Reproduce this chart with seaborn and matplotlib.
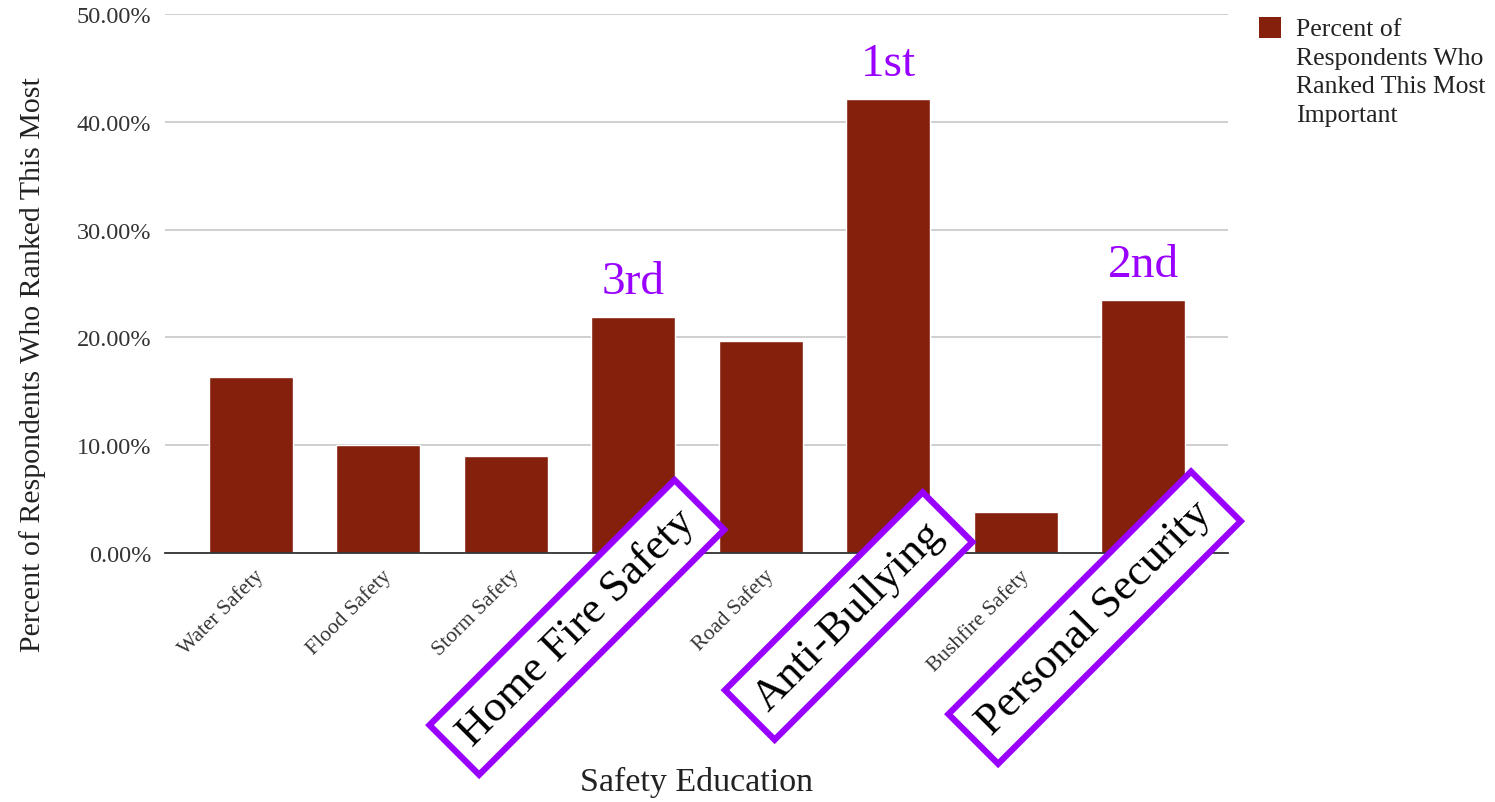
import matplotlib
matplotlib.use("Agg")
import matplotlib.pyplot as plt
import matplotlib.transforms as mtransforms
from matplotlib.patches import Rectangle
from matplotlib.ticker import FuncFormatter
import pandas as pd
import seaborn as sns

# ---- data -------------------------------------------------------------
categories = [
    "Water Safety", "Flood Safety", "Storm Safety", "Home Fire Safety",
    "Road Safety", "Anti-Bullying", "Bushfire Safety", "Personal Security",
]
percent_most_important = [16.3, 10.0, 9.0, 21.9, 19.7, 42.1, 3.8, 23.5]
y_ticks = [0, 10, 20, 30, 40, 50]
top_ranked = ["Anti-Bullying", "Personal Security", "Home Fire Safety"]
rank_labels = ["1st", "2nd", "3rd"]
series_label = "Percent of\nRespondents Who\nRanked This Most\nImportant"
x_title = "Safety Education"
y_title = "Percent of Respondents Who Ranked This Most"

# ---- style ------------------------------------------------------------
BAR_COLOR = "#85200c"
HIGHLIGHT = "#9900ff"
GRID = "#cccccc"
TEXT = "#222222"

sns.set_theme(style="white")
plt.rcParams["font.family"] = ["Liberation Serif", "DejaVu Serif"]

W, H = 1495, 803
fig = plt.figure(figsize=(W / 100, H / 100), dpi=100)
ax = fig.add_axes([165 / W, 1 - 554 / H, (1228 - 165) / W, (554 - 15) / H])

df = pd.DataFrame({"category": categories, "value": percent_most_important})
sns.barplot(data=df, x="category", y="value", color=BAR_COLOR,
            saturation=1, width=0.66, ax=ax, zorder=2)

ax.set_xlim(-0.675, len(categories) - 1 + 0.667)
ax.set_ylim(0, 50)
ax.set_yticks(y_ticks)
ax.yaxis.set_major_formatter(FuncFormatter(lambda v, _: f"{v:.2f}%"))
ax.yaxis.grid(True, color=GRID, lw=1.3)
ax.set_axisbelow(True)
for side in ("top", "right", "left"):
    ax.spines[side].set_visible(False)
ax.spines["bottom"].set_color("#333333")
ax.spines["bottom"].set_linewidth(1.3)
ax.spines["bottom"].set_zorder(3)

ax.tick_params(axis="y", length=0, pad=10, labelsize=17.5, labelcolor="#333333")
ax.tick_params(axis="x", length=0, pad=14, labelsize=15.5, labelcolor="#333333")
offset = mtransforms.ScaledTranslation(10 / 100, 0, fig.dpi_scale_trans)
for lbl in ax.get_xticklabels():
    lbl.set_rotation(45)
    lbl.set_ha("right")
    lbl.set_va("center")
    lbl.set_rotation_mode("anchor")
    lbl.set_transform(lbl.get_transform() + offset)

ax.set_xlabel(x_title, fontsize=24.5, color=TEXT, labelpad=0)
ax.xaxis.set_label_coords(0.5, -(767 - 554) / (554 - 15), transform=ax.transAxes)
ax.set_ylabel(y_title, fontsize=21.5, color=TEXT)
ax.yaxis.set_label_coords(-(165 - 46) / (1228 - 165), 0.5 - (365 - 284.5) / (554 - 15))

# rank callouts above the three leading bars and boxed category names below
box_centres = {
    "Home Fire Safety": (-0.443, -6.9),
    "Anti-Bullying": (-0.31, -5.85),
    "Personal Security": (-0.38, -6.0),
}
for cat, rank in zip(top_ranked, rank_labels):
    i = categories.index(cat)
    v = percent_most_important[i]
    ax.text(i, v + 2.2, rank, ha="center", va="baseline", fontsize=34,
            color=HIGHLIGHT, zorder=5)
    dx, yc = box_centres[cat]
    ax.text(i + dx, yc, cat, rotation=45, rotation_mode="anchor",
            ha="center", va="center", fontsize=32, color="black",
            zorder=6, clip_on=False,
            bbox=dict(boxstyle="square,pad=0.34", fc="white",
                      ec=HIGHLIGHT, lw=4.5))

# series key in the top-right corner
fig.patches.append(Rectangle((1259 / W, 1 - 39 / H), 22 / W, 21 / H,
                             transform=fig.transFigure, facecolor=BAR_COLOR,
                             edgecolor="none"))
fig.text(1296 / W, 1 - 19 / H, series_label, ha="left", va="top",
         fontsize=18.5, linespacing=1.39, color=TEXT)

fig.savefig("out.png", dpi=100, facecolor="white")
